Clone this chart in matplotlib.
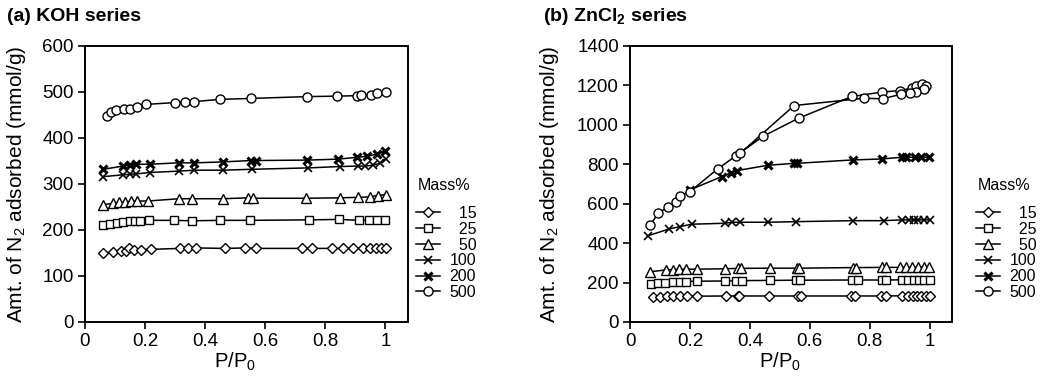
import matplotlib
matplotlib.use("Agg")
import matplotlib.pyplot as plt
from matplotlib.lines import Line2D

plt.rcParams['font.family'] = ['Liberation Sans', 'DejaVu Sans']
plt.rcParams['mathtext.fontset'] = 'custom'
plt.rcParams['mathtext.rm'] = 'Liberation Sans'
plt.rcParams['mathtext.bf'] = 'Liberation Sans:bold'
plt.rcParams['mathtext.it'] = 'Liberation Sans:italic'
plt.rcParams['mathtext.default'] = 'regular'

# ---------------- data ----------------
mass_labels = ["15", "25", "50", "100", "200", "500"]

# (a) KOH series
koh_x15 = [0.061, 0.094, 0.12, 0.138, 0.146, 0.162, 0.188, 0.221, 0.317, 0.342, 0.37, 0.466,
           0.533, 0.568, 0.721, 0.756, 0.822, 0.858, 0.891, 0.924, 0.949, 0.968, 0.984, 1.002]
koh_y15 = [150, 152, 154, 155, 161, 156, 157, 158, 160, 161, 161, 160,
           161, 160, 160, 160, 160, 160, 160, 160, 160, 160, 160, 160]
koh_x25 = [0.061, 0.083, 0.105, 0.127, 0.149, 0.166, 0.182, 0.213, 0.296, 0.355, 0.45, 0.55,
           0.745, 0.846, 0.913, 0.946, 0.971, 0.999]
koh_y25 = [211, 214, 216, 218, 219, 220, 220, 221, 221, 220, 221, 221,
           222, 223, 221, 221, 221, 221]
koh_x50 = [0.061, 0.094, 0.114, 0.132, 0.152, 0.174, 0.21, 0.312, 0.355, 0.46, 0.543, 0.56,
           0.737, 0.85, 0.91, 0.947, 0.974, 1.002]
koh_y50 = [255, 258, 260, 261, 262, 263, 263, 268, 268, 268, 270, 269,
           269, 270, 271, 272, 275, 277]
koh_x100 = [0.061, 0.127, 0.149, 0.171, 0.215, 0.312, 0.364, 0.458, 0.555, 0.743, 0.85, 0.909,
            0.933, 0.96, 0.982, 1.002]
koh_y100 = [316, 320, 321, 322, 325, 328, 330, 330, 332, 335, 338, 339,
            339, 341, 345, 354]
koh_x200 = [0.061, 0.127, 0.149, 0.171, 0.215, 0.312, 0.364, 0.458, 0.552, 0.568, 0.739, 0.842,
            0.905, 0.938, 0.971, 0.999]
koh_y200 = [332, 339, 341, 343, 343, 346, 346, 348, 351, 351, 352, 354,
            358, 360, 365, 372]
koh_x500 = [0.072, 0.085, 0.103, 0.131, 0.15, 0.172, 0.202, 0.3, 0.332, 0.362, 0.448, 0.552,
            0.739, 0.838, 0.905, 0.919, 0.952, 0.973, 1.003]
koh_y500 = [447, 457, 461, 463, 464, 468, 473, 477, 479, 479, 484, 486,
            490, 491, 492, 493, 494, 498, 501]

# (b) ZnCl2 series
zn_x15 = [0.076, 0.1, 0.123, 0.145, 0.167, 0.19, 0.225, 0.321, 0.359, 0.364, 0.465, 0.561,
          0.572, 0.739, 0.752, 0.839, 0.853, 0.908, 0.927, 0.944, 0.959, 0.973, 0.987, 1.001]
zn_y15 = [128, 129, 130, 130, 131, 131, 131, 132, 132, 132, 132, 132,
          132, 132, 132, 132, 132, 133, 133, 133, 133, 133, 133, 133]
zn_x25 = [0.069, 0.093, 0.117, 0.145, 0.167, 0.186, 0.223, 0.318, 0.355, 0.373, 0.468, 0.554,
          0.569, 0.741, 0.76, 0.842, 0.855, 0.908, 0.927, 0.948, 0.966, 0.983, 1.0]
zn_y25 = [195, 197, 199, 202, 203, 205, 207, 208, 209, 210, 211, 212,
          212, 213, 213, 213, 213, 214, 214, 214, 214, 214, 214]
zn_x50 = [0.067, 0.119, 0.142, 0.164, 0.187, 0.223, 0.318, 0.362, 0.37, 0.466, 0.557, 0.565,
          0.744, 0.753, 0.84, 0.853, 0.903, 0.923, 0.942, 0.962, 0.981, 0.998]
zn_y50 = [255, 264, 266, 267, 268, 268, 270, 272, 272, 273, 273, 273,
          276, 276, 277, 277, 277, 278, 278, 279, 280, 281]
zn_x100 = [0.061, 0.131, 0.167, 0.206, 0.318, 0.34, 0.368, 0.46, 0.554, 0.743, 0.847, 0.909,
           0.93, 0.947, 0.963, 0.98, 1.0]
zn_y100 = [438, 472, 484, 496, 501, 506, 506, 506, 509, 514, 514, 518,
           518, 518, 518, 518, 518]
zn_x200 = [0.2, 0.307, 0.338, 0.357, 0.46, 0.549, 0.558, 0.743, 0.842, 0.909, 0.92, 0.953,
           0.97, 0.998]
zn_y200 = [670, 738, 758, 768, 795, 805, 805, 822, 827, 836, 836, 836,
           836, 836]
# adsorption then desorption branch (hysteresis loop)
zn_x500 = [0.067, 0.095, 0.128, 0.154, 0.167, 0.2, 0.293, 0.355, 0.443, 0.563, 0.741, 0.84,
           0.90, 0.94, 0.955, 0.976,
           0.987, 0.981, 0.955, 0.936, 0.906, 0.844, 0.78, 0.548, 0.368]
zn_y500 = [492, 552, 585, 611, 641, 661, 777, 844, 941, 1034, 1144, 1166,
           1174, 1186, 1195, 1207,
           1195, 1181, 1166, 1161, 1156, 1132, 1135, 1098, 856]

koh_series = [(koh_x15, koh_y15), (koh_x25, koh_y25), (koh_x50, koh_y50),
              (koh_x100, koh_y100), (koh_x200, koh_y200), (koh_x500, koh_y500)]
zn_series = [(zn_x15, zn_y15), (zn_x25, zn_y25), (zn_x50, zn_y50),
             (zn_x100, zn_y100), (zn_x200, zn_y200), (zn_x500, zn_y500)]

styles = [
    dict(marker='D', ms=5.5, mfc='white', mec='black', mew=1.0),
    dict(marker='s', ms=5.5, mfc='white', mec='black', mew=1.0),
    dict(marker='^', ms=6.5, mfc='white', mec='black', mew=1.0),
    dict(marker='x', ms=5.5, mfc='black', mec='black', mew=1.2),
    dict(marker='x', ms=6, mfc='black', mec='black', mew=2.2),
    dict(marker='o', ms=6.5, mfc='white', mec='black', mew=1.0),
]

W, H = 1047, 388
fig = plt.figure(figsize=(W / 100, H / 100), dpi=100)

def make_axes(left_px, right_px, series, ymax, ystep, title, title_x, leg_x, ylab_x):
    ax = fig.add_axes([left_px / W, 1 - 322 / H, (right_px - left_px) / W, (322 - 46) / H])
    for (xs, ys), st in zip(series, styles):
        ax.plot(xs, ys, color='black', lw=1.1, **st)
    ax.set_xlim(0, 1.075)
    ax.set_ylim(0, ymax)
    ax.set_xticks([0, 0.2, 0.4, 0.6, 0.8, 1])
    ax.set_xticklabels(['0', '0.2', '0.4', '0.6', '0.8', '1'])
    ax.set_yticks(list(range(0, ymax + 1, ystep)))
    ax.tick_params(direction='out', length=5, width=1.2, labelsize=13.5, pad=3,
                   top=False, right=False)
    for s in ax.spines.values():
        s.set_linewidth(1.4)
    ax.set_xlabel(r'P/P$_0$', fontsize=14.5)
    ax.xaxis.set_label_coords(0.5 / 1.075, -0.105)
    ax.set_ylabel(r'Amt. of N$_2$ adsorbed (mmol/g)', fontsize=15)
    ax.yaxis.set_label_coords(ylab_x, 0.5)
    fig.text(title_x / W, 1 - 21 / H, title, fontsize=14, fontweight='bold', va='baseline')
    fig.text((leg_x + 2) / W, 1 - 185 / H, 'Mass%', fontsize=11.5, va='center', ha='left')
    handles = [Line2D([], [], color='black', lw=1.1, **st) for st in styles]
    labels = ['\u2007' * (3 - len(l)) + l for l in mass_labels]
    fig.legend(handles, labels, loc='upper left', bbox_to_anchor=(leg_x / W, 1 - 206 / H),
               frameon=False, fontsize=11.5,
               handlelength=1.5, handletextpad=0.6, labelspacing=0.05, borderpad=0,
               borderaxespad=0)
    return ax

make_axes(85, 408, koh_series, 600, 100, '(a) KOH series', 7, 416, -0.176)
make_axes(630, 952, zn_series, 1400, 200, r'(b) ZnCl$\mathbf{_2}$ series', 543, 976, -0.214)

fig.savefig('out.png', dpi=100)
